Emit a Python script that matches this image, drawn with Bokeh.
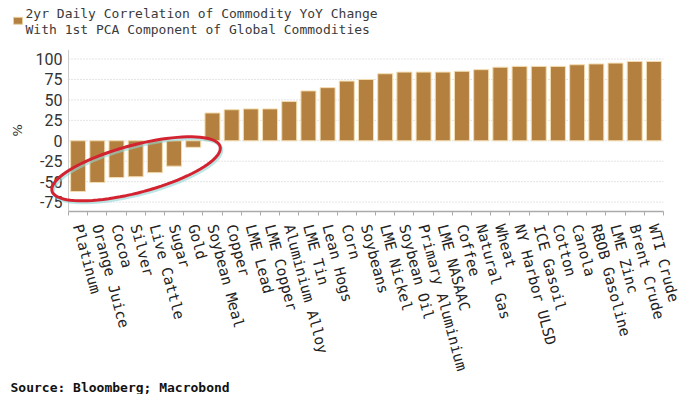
import numpy as np
from bokeh.plotting import figure
from bokeh.models import (Range1d, FixedTicker, Title, PolyAnnotation, ColumnDataSource,
                          Label)
from bokeh.core.properties import value
from bokeh.embed import file_html
from bokeh.resources import INLINE

categories = ["Platinum", "Orange Juice", "Cocoa", "Silver", "Live Cattle", "Sugar",
              "Gold", "Soybean Meal", "Copper", "LME Lead", "LME Copper",
              "Aluminium Alloy", "LME Tin", "Lean Hogs", "Corn", "Soybeans",
              "LME Nickel", "Soybean Oil", "Primary Aluminium", "LME NASAAC",
              "Coffee", "Natural Gas", "Wheat", "NY Harbor ULSD", "ICE Gasoil",
              "Cotton", "Canola", "RBOB Gasoline", "LME Zinc", "Brent Crude",
              "WTI Crude"]
correlation = [-62, -51, -45, -44, -39, -31, -8, 34, 38, 39, 39, 48, 61, 65, 73,
               75, 82, 84, 84, 84, 85, 87, 90, 91, 91, 91, 93, 94, 95, 97, 97]
y_ticks = [-75, -50, -25, 0, 25, 50, 75, 100]
y_tick_labels = [str(v) for v in y_ticks]
title_lines = ["2yr Daily Correlation of Commodity YoY Change",
               "With 1st PCA Component of Global Commodities"]
y_unit = "%"
source_text = "Source: Bloomberg; Macrobond"

BAR = "#B3803F"
pos = list(range(len(categories)))
src = ColumnDataSource(dict(x=pos, y=correlation))

W, H = 684, 394
MR = 21
AXIS_PX = 68                # value axis position from canvas left
FRAME_BOTTOM = 213          # px from top of canvas
MB = H - FRAME_BOTTOM
AX_LO, AX_HI = -86.5, 111   # visible value axis
PX_PER_UNIT = 163 / (AX_HI - AX_LO)

X0, X1 = -0.5, len(categories) - 0.5
pxu = (W - MR - AXIS_PX) / (X1 - X0)
pyu = PX_PER_UNIT
XL = X0 - AXIS_PX / pxu                      # frame reaches the canvas left edge
Y0 = AX_LO
Y1 = AX_LO + FRAME_BOTTOM / PX_PER_UNIT      # frame reaches the canvas top edge

p = figure(width=W, height=H, output_backend="svg", toolbar_location=None,
           title=None,
           x_range=Range1d(XL, X1), y_range=Range1d(Y0, Y1),
           min_border_left=0, min_border_right=MR, min_border_top=0,
           min_border_bottom=MB)
p.outline_line_color = None
p.background_fill_color = "white"
p.xgrid.grid_line_color = None
p.ygrid.grid_line_color = None
p.yaxis.visible = False

# dotted value grid and value axis line
p.segment(x0=X0, x1=X1, y0=y_ticks, y1=y_ticks, line_color="#c8c8c8",
          line_dash="1 2", line_width=1)
p.segment(x0=[X0], x1=[X0], y0=[AX_LO], y1=[AX_HI], line_color="#cccccc", line_width=1)
p.text(x=[X0] * len(y_ticks), y=y_ticks, text=y_tick_labels, x_offset=-6,
       text_align="right", text_baseline="middle", text_font=value("Roboto"),
       text_font_size="16px", text_color="#333333")

bars = p.vbar(x="x", top="y", bottom=0, width=0.78, source=src,
              fill_color=BAR, line_color="#F3DDB0", line_width=1)

# category axis
p.xaxis.bounds = (X0, X1)
p.xaxis.ticker = FixedTicker(ticks=pos, minor_ticks=[i - 0.5 for i in pos] + [X1])
p.xaxis.major_label_overrides = {i: c for i, c in zip(pos, categories)}
p.xaxis.major_label_orientation = -1.31
p.xaxis.major_label_text_font = "DejaVu Sans Mono"
p.xaxis.major_label_text_font_size = "14.75px"
p.xaxis.major_label_text_color = "#222222"
p.xaxis.major_tick_line_color = None
p.xaxis.minor_tick_line_color = "#aaaaaa"
p.xaxis.minor_tick_out = 4
p.xaxis.minor_tick_in = 0
p.xaxis.axis_line_color = "#aaaaaa"
p.xaxis.axis_line_width = 1.5
p.xaxis.major_label_standoff = 7


def xd(px):   # canvas px -> data x
    return XL + px / pxu


def yd(py):   # canvas px (from top) -> data y
    return Y0 + (FRAME_BOTTOM - py) / pyu


# title lines with colour square
for line, py in zip(title_lines, [13, 29]):
    p.add_layout(Label(x=xd(25), y=yd(py), text=line, text_font="DejaVu Sans Mono",
                       text_font_size="13px", text_color="#3a3a3a",
                       text_baseline="middle", text_align="left"))
p.add_layout(PolyAnnotation(xs=[xd(13), xd(22), xd(22), xd(13)],
                            ys=[yd(24), yd(24), yd(17), yd(17)],
                            fill_color=BAR, fill_alpha=1, line_color="#E9CF9F",
                            line_alpha=1, line_width=1))

# value-axis unit label
p.add_layout(Label(x=xd(17), y=yd(131), text=y_unit, angle=np.pi / 2,
                   text_font="DejaVu Sans", text_font_size="13px", text_color="#333333",
                   text_align="center", text_baseline="middle"))

# source note
p.add_layout(Title(text=source_text, text_font="DejaVu Sans Mono", text_font_size="13px",
                   text_font_style="bold", text_color="#111111", align="left",
                   offset=10, standoff=0), "below")

# red highlight ellipse around negative correlations
cx, cy = 3.02, -34.3
a, b, th = 87.0, 24.0, np.deg2rad(15)
t = np.linspace(0, 2 * np.pi, 90)
dx = a * np.cos(t) * np.cos(th) - b * np.sin(t) * np.sin(th)
dy = a * np.cos(t) * np.sin(th) + b * np.sin(t) * np.cos(th)
shadow = PolyAnnotation(xs=list(cx + (dx + 1.5) / pxu), ys=list(cy + (dy - 2) / pyu),
                        fill_alpha=0, line_color="#8fd6d6", line_width=3, line_alpha=0.6)
ring = PolyAnnotation(xs=list(cx + dx / pxu), ys=list(cy + dy / pyu),
                      fill_alpha=0, line_color="#d42330", line_width=3, line_alpha=1)
p.add_layout(shadow)
p.add_layout(ring)

open("out.html", "w").write(file_html(p, INLINE))
